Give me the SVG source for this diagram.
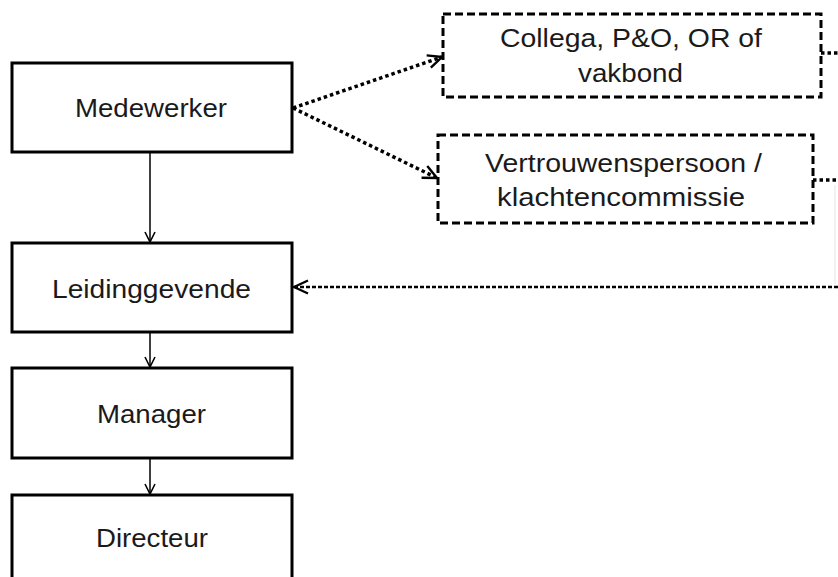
<svg xmlns="http://www.w3.org/2000/svg" width="838" height="577" viewBox="0 0 838 577">
<style>
  .box{fill:#fff;stroke:#000;stroke-width:3}
  .dbox{fill:#fff;stroke:#000;stroke-width:3;stroke-dasharray:8 4}
  .t{font-family:"Liberation Sans",Arial,sans-serif;font-size:25px;fill:#1a1a1a;text-anchor:middle}
  .solid{fill:none;stroke:#000;stroke-width:1.5}
  .dot{fill:none;stroke:#000;stroke-width:3.5;stroke-dasharray:3.5 3}
  .dash{fill:none;stroke:#000;stroke-width:2.5;stroke-dasharray:4 2}
</style>
<defs>
  <marker id="v" viewBox="0 0 12 12" refX="11" refY="6" markerWidth="12" markerHeight="12" markerUnits="userSpaceOnUse" orient="auto">
    <path d="M1,1 L11,6 L1,11" fill="none" stroke="#000" stroke-width="1.6"/>
  </marker>
  <marker id="vb" viewBox="0 0 16 16" refX="15" refY="8" markerWidth="16" markerHeight="16" markerUnits="userSpaceOnUse" orient="auto">
    <path d="M1,1.5 L15,8 L1,14.5" fill="none" stroke="#000" stroke-width="2.4"/>
  </marker>
</defs>
<rect width="838" height="577" fill="#fff"/>
<g id="connectors">
  <path class="solid" d="M150,152 V242" marker-end="url(#v)"/>
  <path class="solid" d="M150,332 V367" marker-end="url(#v)"/>
  <path class="solid" d="M150,458 V494" marker-end="url(#v)"/>
  <path class="dot" d="M293,108 L442,57" marker-end="url(#vb)"/>
  <path class="dot" d="M293,108 L437,178" marker-end="url(#vb)"/>
  <path class="dot" d="M821,53 H838"/>
  <path class="dot" d="M813,180 H838"/>
  <path d="M835,185 V284" fill="none" stroke="#eeeeee" stroke-width="1.5"/>
  <path class="dash" d="M838,287 H294" marker-end="url(#vb)"/>
</g>
<g id="medewerker">
  <rect class="box" x="12" y="63" width="280" height="89"/>
  <text class="t" x="151" y="117" textLength="152" lengthAdjust="spacingAndGlyphs">Medewerker</text>
</g>
<g id="leidinggevende">
  <rect class="box" x="12" y="243" width="280" height="89"/>
  <text class="t" x="151.5" y="298" textLength="199" lengthAdjust="spacingAndGlyphs">Leidinggevende</text>
</g>
<g id="manager">
  <rect class="box" x="12" y="368" width="280" height="90"/>
  <text class="t" x="151.5" y="423" textLength="109" lengthAdjust="spacingAndGlyphs">Manager</text>
</g>
<g id="directeur">
  <rect class="box" x="12" y="495" width="280" height="100"/>
  <text class="t" x="152" y="547" textLength="112" lengthAdjust="spacingAndGlyphs">Directeur</text>
</g>
<g id="collega">
  <rect class="dbox" x="443" y="14" width="378" height="83"/>
  <text class="t" x="631" y="47" textLength="262" lengthAdjust="spacingAndGlyphs">Collega, P&amp;O, OR of</text>
  <text class="t" x="630.5" y="82" textLength="105" lengthAdjust="spacingAndGlyphs">vakbond</text>
</g>
<g id="vertrouwenspersoon">
  <rect class="dbox" x="438" y="135" width="375" height="88"/>
  <text class="t" x="623.5" y="172" textLength="277" lengthAdjust="spacingAndGlyphs">Vertrouwenspersoon /</text>
  <text class="t" x="621" y="206" textLength="248" lengthAdjust="spacingAndGlyphs">klachtencommissie</text>
</g>
</svg>
